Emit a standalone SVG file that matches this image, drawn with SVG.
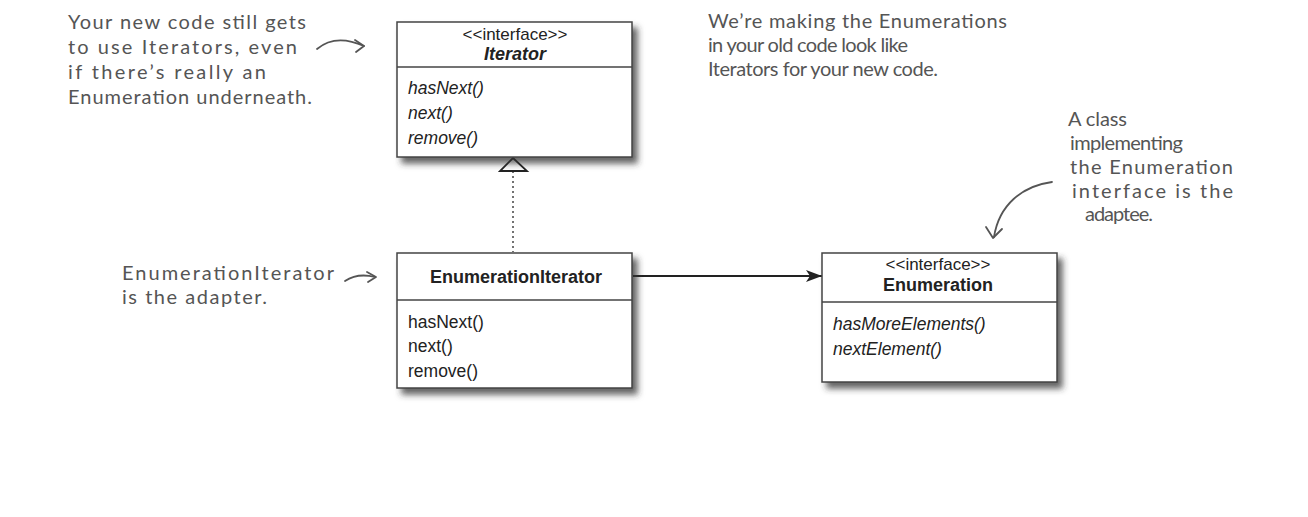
<svg xmlns="http://www.w3.org/2000/svg" width="1308" height="517" viewBox="0 0 1308 517">
<style>
.box{fill:#fff;stroke:#444;stroke-width:1.5}
.div{stroke:#444;stroke-width:1.5}
.t{font-family:"Liberation Sans",Arial,sans-serif;fill:#222}
.st{font-size:17px;text-anchor:middle}
.nm{font-size:18px;font-weight:bold;text-anchor:middle}
.it{font-style:italic}
.m{font-size:17.5px}
.hw{font-family:"Lato","Open Sans",sans-serif;font-size:20px;fill:#555}
.hl{fill:none;stroke:#555;stroke-width:1.8;stroke-linecap:round;stroke-linejoin:round}
</style>
<defs>
<filter id="sh" x="-10%" y="-10%" width="130%" height="140%">
<feDropShadow dx="5" dy="6" stdDeviation="3" flood-color="#333" flood-opacity="0.75"/>
</filter>
<marker id="arr" markerWidth="16" markerHeight="12" refX="16" refY="6" orient="auto" markerUnits="userSpaceOnUse">
<path d="M0,0 L16,6 L0,12 L4,6 Z" fill="#222"/>
</marker>
</defs>

<g id="connectors">
<line x1="513" y1="171" x2="513" y2="252" stroke="#444" stroke-width="1.5" stroke-dasharray="2,3"/>
<polygon points="513,158 527,171 500,171" fill="#fff" stroke="#222" stroke-width="1.8"/>
<line x1="633" y1="276" x2="822" y2="276" stroke="#222" stroke-width="2" marker-end="url(#arr)"/>
</g>

<g id="iterator">
<rect class="box" x="397" y="22" width="235" height="135" filter="url(#sh)"/>
<line class="div" x1="397" y1="67" x2="632" y2="67"/>
<text class="t st" x="515" y="40">&lt;&lt;interface&gt;&gt;</text>
<text class="t nm it" x="515" y="60">Iterator</text>
<text class="t m it" x="408" y="94">hasNext()</text>
<text class="t m it" x="408" y="119">next()</text>
<text class="t m it" x="408" y="144">remove()</text>
</g>

<g id="enumerationIterator">
<rect class="box" x="397" y="253" width="235" height="135" filter="url(#sh)"/>
<line class="div" x1="397" y1="300" x2="632" y2="300"/>
<text class="t nm" x="516" y="283">EnumerationIterator</text>
<text class="t m" x="408" y="328">hasNext()</text>
<text class="t m" x="408" y="352">next()</text>
<text class="t m" x="408" y="377">remove()</text>
</g>

<g id="enumeration">
<rect class="box" x="822" y="253" width="235" height="129" filter="url(#sh)"/>
<line class="div" x1="822" y1="302" x2="1057" y2="302"/>
<text class="t st" x="938" y="270">&lt;&lt;interface&gt;&gt;</text>
<text class="t nm" x="938" y="291">Enumeration</text>
<text class="t m it" x="833" y="330">hasMoreElements()</text>
<text class="t m it" x="833" y="355">nextElement()</text>
</g>

<g id="note-left">
<text class="hw" x="68" y="29" textLength="238" lengthAdjust="spacing">Your new code still gets</text>
<text class="hw" x="68" y="54" textLength="229" lengthAdjust="spacing">to use Iterators, even</text>
<text class="hw" x="68" y="79" textLength="198" lengthAdjust="spacing">if there’s really an</text>
<text class="hw" x="68" y="104" textLength="244" lengthAdjust="spacing">Enumeration underneath.</text>
<path class="hl" d="M317,49 C330,38 346,38 364,46"/>
<path class="hl" d="M355,40 L364,46 L356,52"/>
</g>

<g id="note-top-right">
<text class="hw" x="708" y="28" textLength="299" lengthAdjust="spacing">We’re making the Enumerations</text>
<text class="hw" x="708" y="52" textLength="200" lengthAdjust="spacing">in your old code look like</text>
<text class="hw" x="708" y="76" textLength="230" lengthAdjust="spacing">Iterators for your new code.</text>
</g>

<g id="note-right">
<text class="hw" x="1068" y="126" textLength="59" lengthAdjust="spacing">A class</text>
<text class="hw" x="1070" y="150" textLength="113" lengthAdjust="spacing">implementing</text>
<text class="hw" x="1070" y="174" textLength="163" lengthAdjust="spacing">the Enumeration</text>
<text class="hw" x="1072" y="198" textLength="161" lengthAdjust="spacing">interface is the</text>
<text class="hw" x="1085" y="221" textLength="68" lengthAdjust="spacing">adaptee.</text>
<path class="hl" d="M1052,182 C1022,186 999,205 994,237"/>
<path class="hl" d="M986,227 L993,238 L1002,229"/>
</g>

<g id="note-bottom-left">
<text class="hw" x="122" y="280" textLength="212" lengthAdjust="spacing">EnumerationIterator</text>
<text class="hw" x="122" y="304" textLength="145" lengthAdjust="spacing">is the adapter.</text>
<path class="hl" d="M345,281 C354,275 363,274 375,277"/>
<path class="hl" d="M367,272 L376,277 L368,282"/>
</g>
</svg>
